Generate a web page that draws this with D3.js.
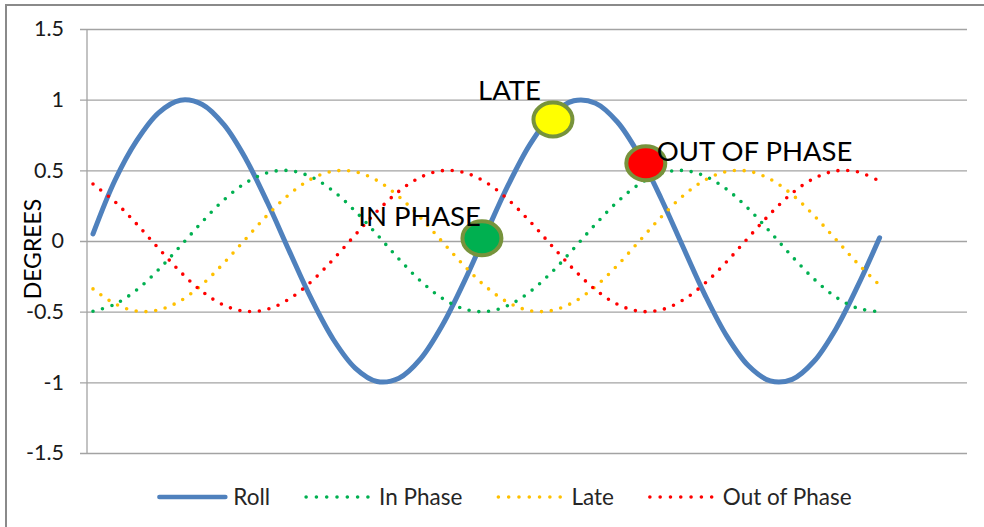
<!DOCTYPE html>
<html><head><meta charset="utf-8">
<script src="https://cdn.jsdelivr.net/npm/d3@7"></script>
<style>
html,body{margin:0;padding:0;background:#fff;}
svg{display:block;font-family:Lato,"Open Sans",sans-serif;}
</style>
</head><body>
<svg id="chart" width="984" height="527"></svg>
<script>
// ---- data ----
const angles = [0,20,40,60,80,100,120,140,160,180,200,220,240,260,280,300,320,340,360,
  380,400,420,440,460,480,500,520,540,560,580,600,620,640,660,680,700,720];
const roll = [0.05,0.428,0.710,0.907,0.996,0.966,0.821,0.579,0.267,-0.077,-0.412,-0.697,-0.899,
  -0.994,-0.971,-0.832,-0.593,-0.284,0.059,0.395,0.684,0.891,0.992,0.975,0.842,0.608,0.301,
  -0.041,-0.379,-0.671,-0.883,-0.990,-0.979,-0.851,-0.622,-0.318,0.023];
const inPhase = [-0.497,-0.448,-0.346,-0.203,-0.036,0.136,0.292,0.412,0.484,0.498,0.452,0.353,
  0.211,0.045,-0.127,-0.284,-0.407,-0.482,-0.499,-0.456,-0.359,-0.220,-0.054,0.119,0.277,0.402,
  0.479,0.499,0.460,0.366,0.228,0.063,-0.110,-0.269,-0.397,-0.476,-0.500];
const late = [-0.339,-0.444,-0.496,-0.488,-0.423,-0.307,-0.154,0.017,0.186,0.332,0.440,0.494,
  0.490,0.428,0.314,0.163,-0.008,-0.177,-0.326,-0.435,-0.493,-0.492,-0.432,-0.321,-0.172,-0.001,
  0.169,0.319,0.431,0.491,0.494,0.437,0.328,0.180,0.011,-0.160,-0.312];
const outOfPhase = [0.403,0.278,0.120,-0.052,-0.218,-0.358,-0.455,-0.498,-0.482,-0.408,-0.286,
  -0.129,0.043,0.210,0.352,0.452,0.498,0.484,0.413,0.293,0.138,-0.034,-0.201,-0.345,-0.448,
  -0.497,-0.487,-0.418,-0.300,-0.147,0.025,0.193,0.339,0.443,0.496,0.489,0.423];
const seriesNames = ["Roll","In Phase","Late","Out of Phase"];
const seriesColors = ["#4F81BD","#00B050","#FFC000","#FF0000"];
const yTicks = [-1.5,-1,-0.5,0,0.5,1,1.5];
const yTitle = "DEGREES";
const markerLabels = ["IN PHASE","LATE","OUT OF PHASE"];
const markerAngles = [356,421,506];
const markerValues = [0.02,0.86,0.55];
const markerFills = ["#00B050","#FFFF00","#FF0000"];

// ---- drawing ----
const svg = d3.select("#chart");
const plot = {left:87, right:967, top:29, bottom:453};

svg.append("rect").attr("x",6).attr("y",5).attr("width",1200).attr("height",900)
  .attr("fill","#fff").attr("stroke","#8a8a8a").attr("stroke-width",2);

const x = d3.scaleLinear().domain([-5.5,800]).range([plot.left, plot.right]);
const y = d3.scaleLinear().domain([-1.5,1.5]).range([plot.bottom, plot.top]);

const gridColor = "#A3A3A3";
const yAxis = d3.axisLeft(y).tickValues(yTicks).tickSizeInner(-(plot.right-80)).tickSizeOuter(0)
  .tickPadding(16).tickFormat(d => String(d));
const ga = svg.append("g").attr("transform","translate(80,0)").call(yAxis);
ga.select(".domain").remove();
ga.selectAll(".tick line").attr("stroke",gridColor).attr("stroke-width",1.3);
ga.selectAll(".tick text").attr("fill","#1a1a1a").style("font-size","21.5px")
  .style("font-family","Lato, sans-serif");

svg.append("line").attr("x1",plot.left).attr("x2",plot.left).attr("y1",plot.top).attr("y2",plot.bottom)
  .attr("stroke",gridColor).attr("stroke-width",1.3);

svg.append("text").attr("transform",`translate(41,249) rotate(-90)`)
  .attr("text-anchor","middle").style("font-size","23px").attr("fill","#000").text(yTitle);

const allSeries = [roll,inPhase,late,outOfPhase];
const line = d3.line().x((d,i)=>x(angles[i])).y(d=>y(d)).curve(d3.curveCatmullRom.alpha(0.5));
allSeries.forEach((vals,k)=>{
  const p = svg.append("path").attr("d",line(vals)).attr("fill","none")
    .attr("stroke",seriesColors[k]).attr("stroke-linecap","round").attr("stroke-linejoin","round");
  if(k===0){ p.attr("stroke-width",5); }
  else { p.attr("stroke-width",3.6).attr("stroke-dasharray","0 9.8"); }
});

// markers
markerLabels.forEach((lab,i)=>{
  const cx = x(markerAngles[i]), cy = y(markerValues[i]);
  svg.append("ellipse").attr("cx",cx).attr("cy",cy).attr("rx",19.5).attr("ry",17)
    .attr("fill",markerFills[i]).attr("stroke","#77933C").attr("stroke-width",4);
});
const lblStyle = (t)=>t.style("font-size","27.5px").attr("fill","#000");
lblStyle(svg.append("text").attr("x",x(markerAngles[0])-1).attr("y",y(markerValues[0])-12)
  .attr("text-anchor","end").text(markerLabels[0]));
lblStyle(svg.append("text").attr("x",x(markerAngles[1])-12).attr("y",y(markerValues[1])-19)
  .attr("text-anchor","end").text(markerLabels[1]));
lblStyle(svg.append("text").attr("x",x(markerAngles[2])+11).attr("y",y(markerValues[2])-2)
  .attr("text-anchor","start").text(markerLabels[2]));

// legend
const leg = svg.append("g");
const legY = 497, sampleW = 70, textGap = 6, itemGap = 33;
const items = seriesNames.map((n,k)=>{
  const g = leg.append("g");
  if(k===0){
    g.append("line").attr("x1",2).attr("x2",sampleW-2).attr("y1",legY).attr("y2",legY)
      .attr("stroke",seriesColors[k]).attr("stroke-width",4.5).attr("stroke-linecap","round");
  } else {
    g.append("line").attr("x1",3).attr("x2",3+61.8).attr("y1",legY).attr("y2",legY)
      .attr("stroke",seriesColors[k]).attr("stroke-width",3.6).attr("stroke-linecap","round")
      .attr("stroke-dasharray","0 10.3");
  }
  const t = g.append("text").attr("x",sampleW+textGap).attr("y",legY).attr("dy","0.35em")
    .style("font-size","22.5px").attr("fill","#262626").text(n);
  const w = sampleW + textGap + t.node().getComputedTextLength();
  return {g,w};
});
const total = d3.sum(items,d=>d.w) + itemGap*(items.length-1);
let cx0 = 504.5 - total/2;
items.forEach(it=>{ it.g.attr("transform",`translate(${cx0},0)`); cx0 += it.w + itemGap; });
</script>
</body></html>
